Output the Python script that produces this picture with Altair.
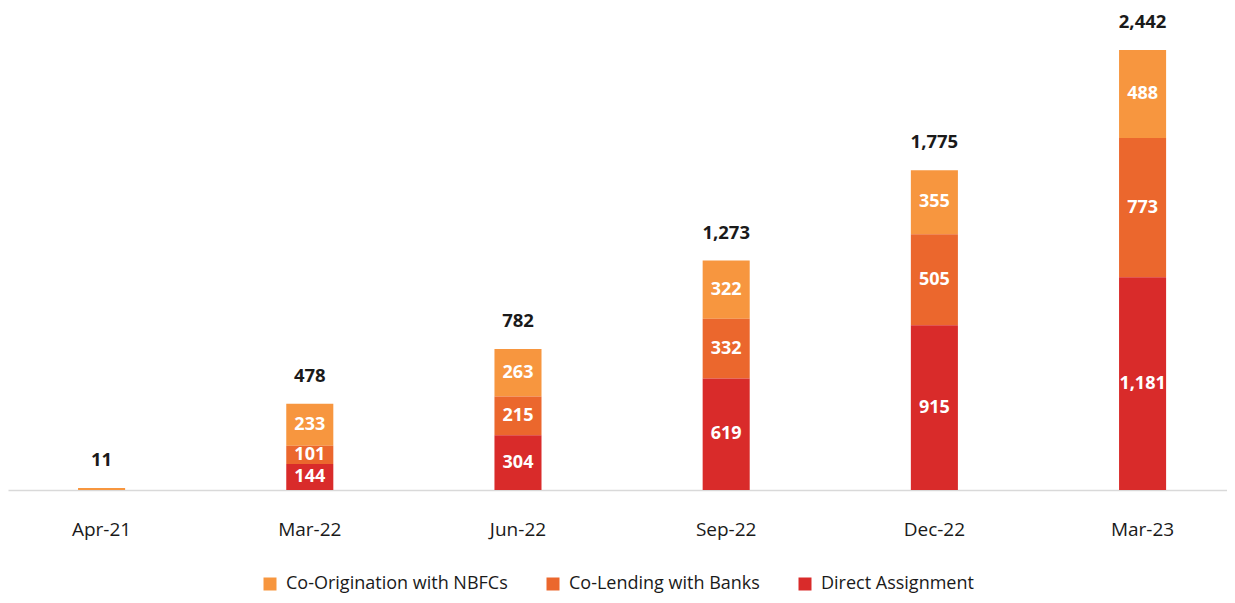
import altair as alt
import pandas as pd

periods = ["Apr-21", "Mar-22", "Jun-22", "Sep-22", "Dec-22", "Mar-23"]
direct_assignment = [0, 144, 304, 619, 915, 1181]
co_lending = [0, 101, 215, 332, 505, 773]
co_origination = [11, 233, 263, 322, 355, 488]
totals = [11, 478, 782, 1273, 1775, 2442]

series = ["Co-Origination with NBFCs", "Co-Lending with Banks", "Direct Assignment"]
colors = ["#F7963F", "#EB672D", "#D92B2A"]
stack_order = {"Direct Assignment": 0, "Co-Lending with Banks": 1, "Co-Origination with NBFCs": 2}

rows = []
for i, p in enumerate(periods):
    for s, vals in zip(series, [co_origination, co_lending, direct_assignment]):
        rows.append({"period": p, "series": s, "value": vals[i], "ord": stack_order[s]})
df = pd.DataFrame(rows)
tot_df = pd.DataFrame({"period": periods, "total": totals})

FONT = "Open Sans"
x = alt.X("period:N", sort=periods, title=None,
          scale=alt.Scale(paddingInner=0.774, paddingOuter=0.3145, align=0.535),
          axis=alt.Axis(labelAngle=0, ticks=False, domainColor="#d9d9d9", domainWidth=1.5,
                        labelPadding=30, labelFontSize=19, labelFont=FONT, labelColor="#1a1a1a",
                        labelFontWeight="normal"))
yscale = alt.Scale(domain=[0, 2675], nice=False)

bars = alt.Chart(df).mark_bar().encode(
    x=x,
    y=alt.Y("value:Q", stack="zero", scale=yscale, axis=None),
    color=alt.Color("series:N", sort=series,
                    scale=alt.Scale(domain=series, range=colors),
                    legend=alt.Legend(title=None, orient="none", direction="horizontal",
                                      legendX=253, legendY=567, symbolType="square",
                                      symbolSize=169, labelFontSize=18, labelFont=FONT,
                                      labelColor="#1a1a1a", columnPadding=36, symbolStrokeWidth=0,
                                      labelOffset=7, labelLimit=0)),
    order=alt.Order("ord:Q", sort="ascending"),
)

seg_labels = alt.Chart(df).transform_stack(
    stack="value", groupby=["period"], as_=["y0", "y1"], sort=[alt.SortField("ord", order="ascending")]
).transform_filter("datum.value >= 50").transform_calculate(
    mid="(datum.y0 + datum.y1) / 2"
).mark_text(color="white", fontSize=18, fontWeight="bold", font=FONT).encode(
    x=alt.X("period:N", sort=periods),
    y=alt.Y("mid:Q", scale=yscale),
    text=alt.Text("value:Q", format=","),
)

tot_labels = alt.Chart(tot_df).mark_text(
    color="#1a1a1a", fontSize=18.5, fontWeight="bold", font=FONT, baseline="alphabetic", dy=-22
).encode(
    x=alt.X("period:N", sort=periods),
    y=alt.Y("total:Q", scale=yscale),
    text=alt.Text("total:Q", format=","),
)

chart = alt.layer(bars, seg_labels, tot_labels).properties(
    width=1219, height=482,
    autosize=alt.AutoSizeParams(type="none"),
    padding={"left": 0, "top": 0, "right": 0, "bottom": 105},
    background="white",
).configure_view(stroke=None, strokeWidth=0)

chart.save("out.html", embed_options={"renderer": "svg", "actions": False})
